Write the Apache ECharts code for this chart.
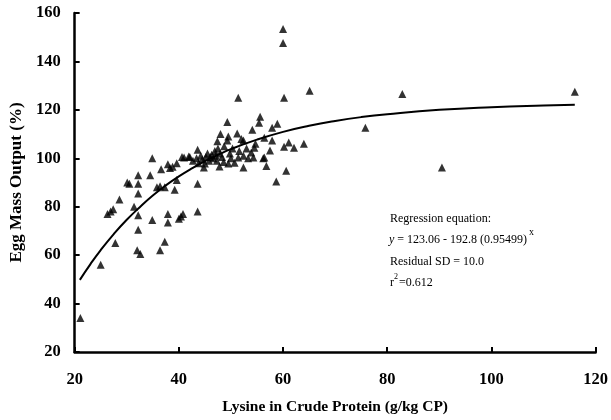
<!DOCTYPE html>
<html>
<head>
<meta charset="utf-8">
<script src="https://cdn.jsdelivr.net/npm/echarts@6/dist/echarts.min.js"></script>
<style>html,body{margin:0;padding:0;background:#fff}#c{width:611px;height:420px}</style>
</head>
<body>
<div id="c"></div>
<script>
// Observed points: [lysine g/kg CP, egg mass output %]
const observedX = [21.1,25,26.3,26.9,27.4,27.8,28.6,30.1,30.5,31.4,32,32.6,32.2,32.2,32.2,32.2,32.2,34.5,34.9,34.9,35.8,36.4,36.4,36.6,37.3,37.3,37.9,37.9,37.9,38.3,38.8,39.2,39.6,39.6,40,40.4,40.8,40.6,41,41.9,42.1,42.7,43.6,43.6,43.6,
43.4,43.8,44.2,44.5,44.8,45,45.2,45.5,45.8,46,46.3,46.6,46.9,47.1,47.3,47.5,47.4,47.8,47.9,48,48.3,48.6,48.7,49.3,49.3,49.5,49.5,49.8,50,50.3,50.7,51.2,51.4,51.4,51.6,52,52.4,52.4,52.4,53,53.3,53.9,54.1,54.3,54.5,54.7,55.4,55.6,56.2,56.4,56.4,56.8,57.5,57.9,57.9,58.7,58.9,60,60,60.2,60.2,60.6,61.1,62.1,64,65.1,75.8,82.9,90.5,116];
const observedY = [34,56,77,78,79,65,83,90,89.5,80,62,60.5,93,89.5,85.5,76.5,70.5,93,100,74.5,88,88.5,62,95.5,88,65.5,97.5,77,73.5,96,96.5,87,91,98,75,76,77,100.5,100.3,100.7,100.5,99,103.5,89.5,78,
100,98,101,99.5,96.2,97.8,100.5,102,99,100.5,101.5,100,103,101,99,104,107,96.6,102,110,100.5,98.5,105,115,107.3,109,97.8,102,100,104,98.2,110.2,125,100.3,103,108,107.3,101,96.2,104,100,102.4,111.8,100.3,104.4,106,114.7,117.2,100,100.3,108.5,96.8,103.2,107.3,112.6,90.4,114.3,153.4,147.6,125,104.8,94.9,106.5,104.4,106,127.9,112.6,126.6,96.2,127.5];

// Fitted regression curve
const curveX = [21,23,25,27.5,30,32.5,35,37.5,40,42.5,45,47.5,50,55,60,65,70,75,80,90,100,110,116];
const curveY = [49.8,56.2,62.1,68.7,74.6,79.8,84.6,88.8,92.5,95.8,98.8,101.4,103.8,107.7,110.9,113.4,115.4,117.0,118.2,120.0,121.1,121.8,122.1];

// Axis ticks
const xTicks = [20,40,60,80,100,120];
const yTicks = [20,40,60,80,100,120,140,160];

const scatterData = observedX.map((x,i)=>[x, observedY[i]]);
const curveData = curveX.map((x,i)=>[x, curveY[i]]);

const serif = '"Liberation Serif","Times New Roman",serif';
const chart = echarts.init(document.getElementById('c'), null, {renderer:'canvas'});
chart.setOption({
  animation:false,
  backgroundColor:'#fff',
  grid:{left:72, right:14, top:13, bottom:68, containLabel:false},
  xAxis:{
    type:'value', min:xTicks[0], max:xTicks[xTicks.length-1], interval:20,
    name:'Lysine in Crude Protein (g/kg CP)', nameLocation:'middle', nameGap:47,
    nameTextStyle:{fontFamily:serif, fontWeight:'bold', fontSize:15.5, color:'#000'},
    axisLine:{show:true, onZero:false, lineStyle:{color:'#000', width:2.5}},
    axisTick:{show:true, inside:true, length:5, lineStyle:{color:'#000', width:2}},
    axisLabel:{fontFamily:serif, fontWeight:'bold', fontSize:16.5, color:'#000', margin:19},
    splitLine:{show:false}
  },
  yAxis:{
    type:'value', min:yTicks[0], max:yTicks[yTicks.length-1], interval:20,
    name:'Egg Mass Output (%)', nameLocation:'middle', nameGap:47, nameRotate:90,
    nameTextStyle:{fontFamily:serif, fontWeight:'bold', fontSize:17, color:'#000'},
    axisLine:{show:true, onZero:false, lineStyle:{color:'#000', width:2.5}},
    axisTick:{show:true, inside:true, length:5, lineStyle:{color:'#000', width:2}},
    axisLabel:{fontFamily:serif, fontWeight:'bold', fontSize:16.5, color:'#000', margin:14},
    splitLine:{show:false}
  },
  series:[
    {type:'line', data:curveData, smooth:true, showSymbol:false, symbol:'none',
     lineStyle:{color:'#000', width:2}, z:3},
    {type:'scatter', data:scatterData, symbol:'triangle', symbolSize:8,
     itemStyle:{color:'#000'}, z:4}
  ],
  graphic:[
    {type:'text', left:390, top:213, style:{text:'Regression equation:', font:'12px '+serif, fill:'#000'}},
    {type:'text', left:389, top:234, style:{
      text:'{i|y} = 123.06 - 192.8 (0.95499)',
      font:'12px '+serif, fill:'#000',
      rich:{i:{fontStyle:'italic', fontFamily:serif, fontSize:12}}}},
    {type:'text', left:529, top:227, style:{text:'x', font:'10px '+serif, fill:'#000'}},
    {type:'text', left:390, top:256, style:{text:'Residual SD = 10.0', font:'12px '+serif, fill:'#000'}},
    {type:'text', left:390, top:277, style:{text:'r', font:'12px '+serif, fill:'#000'}},
    {type:'text', left:394, top:273, style:{text:'2', font:'8px '+serif, fill:'#000'}},
    {type:'text', left:399, top:277, style:{text:'=0.612', font:'12px '+serif, fill:'#000'}}
  ]
});
</script>
</body>
</html>
